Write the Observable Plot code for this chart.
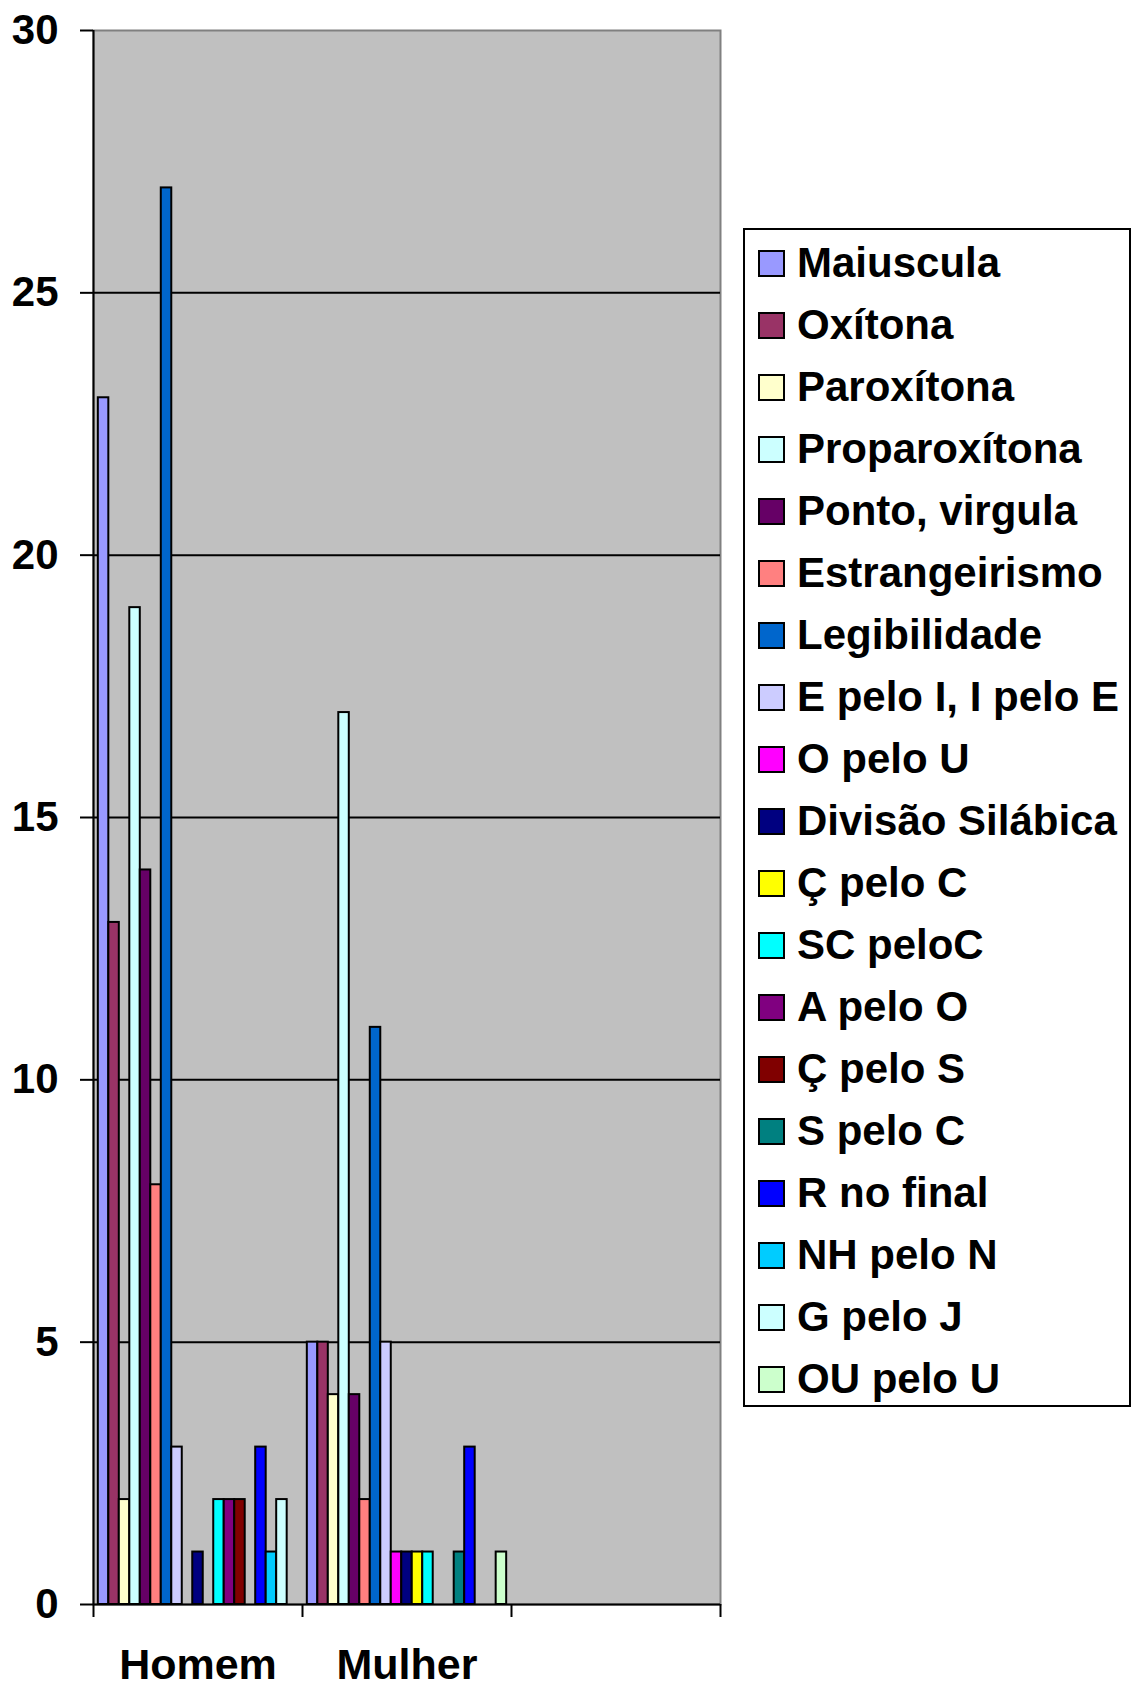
<!DOCTYPE html>
<html>
<head>
<meta charset="utf-8">
<script src="https://cdn.jsdelivr.net/npm/d3@7"></script>
<script src="https://cdn.jsdelivr.net/npm/@observablehq/plot@0.6"></script>
<style>
  html, body { margin: 0; padding: 0; background: #fff; }
  #wrap { position: relative; width: 1137px; height: 1688px; font-family: "Liberation Sans", Arial, sans-serif; }
  #legend { position: absolute; left: 743px; top: 228px; width: 384px; height: 1173px; border: 2px solid #000; background: #fff; padding-top: 2px; box-sizing: content-box; }
  .row { position: relative; height: 62px; line-height: 62px; font-size: 42px; font-weight: bold; color: #000; white-space: nowrap; }
  .sw { position: absolute; left: 13px; top: 18px; width: 23px; height: 23px; border: 2px solid #000; }
  .lab { position: absolute; left: 52px; top: 0; }
</style>
</head>
<body>
<div id="wrap"></div>
<script>
const groups = ["Homem", "Mulher", ""];
const series = ["Maiuscula", "Oxítona", "Paroxítona", "Proparoxítona", "Ponto, virgula", "Estrangeirismo", "Legibilidade", "E pelo I, I pelo E", "O pelo U", "Divisão Silábica", "Ç pelo C", "SC peloC", "A pelo O", "Ç pelo S", "S pelo C", "R no final", "NH pelo N", "G pelo J", "OU pelo U"];
const colors = ["#9999FF", "#993366", "#FFFFCC", "#CCFFFF", "#660066", "#FF8080", "#0066CC", "#CCCCFF", "#FF00FF", "#000080", "#FFFF00", "#00FFFF", "#800080", "#800000", "#008080", "#0000FF", "#00CCFF", "#CCFFFF", "#CCFFCC"];
const homem  = [23, 13, 2, 19, 14, 8, 27, 3, 0, 1, 0, 2, 2, 2, 0, 3, 1, 2, 0];
const mulher = [5, 5, 4, 17, 4, 2, 11, 5, 1, 1, 1, 1, 0, 0, 1, 3, 0, 0, 1];
const yTicks = [0, 5, 10, 15, 20, 25, 30];

const groupValues = [homem, mulher];
const pad = 0.46;
const rows = [];
groupValues.forEach((vals, gi) => {
  vals.forEach((v, si) => {
    if (v > 0) rows.push({group: groups[gi], gi, series: series[si], si, value: v});
  });
});
const slot = (gi, si) => gi + (pad + si) / (series.length + 2 * pad);

const chart = Plot.plot({
  width: 1137,
  height: 1688,
  marginLeft: 93,
  marginRight: 417,
  marginTop: 30,
  marginBottom: 84,
  style: {fontFamily: "'Liberation Sans', Arial, sans-serif", background: "#fff", color: "#000"},
  x: {domain: [0, groups.length], axis: null},
  y: {domain: [0, 30], axis: null},
  color: {domain: series, range: colors},
  marks: [
    Plot.frame({fill: "#C0C0C0", stroke: "#808080", strokeWidth: 2}),
    Plot.ruleY(yTicks.filter(t => t > 0 && t < 30), {stroke: "#000", strokeWidth: 2}),
    Plot.rect(rows, {
      x1: d => slot(d.gi, d.si),
      x2: d => slot(d.gi, d.si + 1),
      y1: 0,
      y2: "value",
      fill: "series",
      stroke: "#000",
      strokeWidth: 2
    }),
    Plot.ruleX([0], {stroke: "#000", strokeWidth: 2}),
    Plot.ruleY([0], {stroke: "#000", strokeWidth: 2}),
    Plot.axisY({ticks: yTicks, label: null, tickSize: 13, tickPadding: 22, fontSize: 42, fontWeight: "bold", strokeWidth: 2, tickFormat: d3.format("d")}),
    Plot.axisX({ticks: d3.range(groups.length + 1), label: null, tickSize: 13, tickFormat: () => "", strokeWidth: 2}),
    Plot.axisX({ticks: d3.range(groups.length).map(i => i + 0.5), label: null, tickSize: 0, tickPadding: 44, fontSize: 43, fontWeight: "bold", tickFormat: d => groups[Math.floor(d)]})
  ]
});

const wrap = document.getElementById("wrap");
wrap.appendChild(chart);

const legend = document.createElement("div");
legend.id = "legend";
series.forEach((s, i) => {
  const row = document.createElement("div");
  row.className = "row";
  const sw = document.createElement("span");
  sw.className = "sw";
  sw.style.background = colors[i];
  const lab = document.createElement("span");
  lab.className = "lab";
  lab.textContent = s;
  row.appendChild(sw);
  row.appendChild(lab);
  legend.appendChild(row);
});
wrap.appendChild(legend);
</script>
</body>
</html>
